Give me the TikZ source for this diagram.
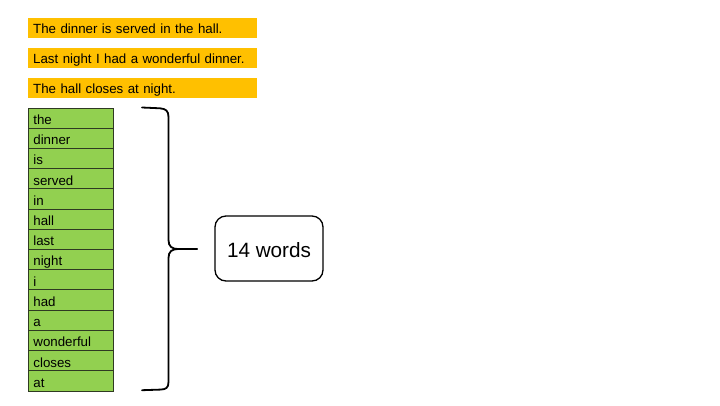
\documentclass[tikz,border=0pt]{standalone}
\usepackage{fontspec}
\setmainfont{Liberation Sans}
\definecolor{sentfill}{HTML}{FFC000}
\definecolor{wordfill}{HTML}{92D050}
\definecolor{cellline}{HTML}{2F3A22}
\begin{document}
\begin{tikzpicture}[x=1pt,y=-1pt,
  sentence/.style={fill=sentfill, anchor=north west, minimum width=229pt,
    minimum height=20.5pt, text width=219pt, inner xsep=5pt, inner ysep=0pt,
    text height=12pt, text depth=0pt,
    align=left, font=\fontsize{13.3}{15}\selectfont},
  wordcell/.style={fill=wordfill, draw=cellline, line width=0.8pt, anchor=north west,
    minimum width=85pt, minimum height=20.2pt, text width=75pt,
    inner xsep=5pt, inner ysep=0pt, text height=12.8pt, text depth=0pt,
    align=left, font=\fontsize{13.3}{15}\selectfont},
  bracket/.style={draw=black, line width=1.8pt, line cap=round, line join=round},
  countbox/.style={draw=black, line width=1.3pt, rounded corners=11pt,
    minimum width=108pt, minimum height=65pt, text height=17.6pt, text depth=0pt,
    font=\fontsize{20.7}{24}\selectfont}]
  \useasboundingbox[fill=white] (0,0) rectangle (720,405);

  % sentences
  \node[sentence] (s1) at (28,17.3) {The dinner is served in the hall.};
  \node[sentence] (s2) at (28,47.3) {Last night I had a wonderful dinner.};
  \node[sentence] (s3) at (28,77.5) {The hall closes at night.};

  % vocabulary column
  \foreach \w [count=\i from 0] in {the,dinner,is,served,in,hall,last,night,i,had,a,wonderful,closes,at}
    \node[wordcell] (w\i) at (28,107.5+\i*20.22) {\w};

  % brace grouping the words
  \coordinate (btop) at (142,107.5);
  \coordinate (bbot) at (142,390.2);
  \coordinate (btip) at (197,249);
  \draw[bracket] (btop) -- (160,108.3) .. controls (166,108.8) and (168.5,111) .. (168.5,117)
    -- (168.5,240) .. controls (168.5,246.5) and (172,249) .. (178,249) -- (btip);
  \draw[bracket] (btip) -- (178,249) .. controls (172,249) and (168.5,251.5) .. (168.5,258)
    -- (168.5,382) .. controls (168.5,388) and (166,389.4) .. (160,389.6) -- (bbot);

  % total count
  \node[countbox] (count) at (269,248.5) {14 words};
\end{tikzpicture}
\end{document}
